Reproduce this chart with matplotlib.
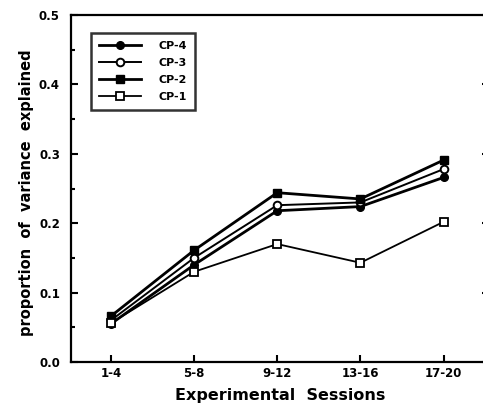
import matplotlib
matplotlib.use("Agg")
import matplotlib.pyplot as plt
from matplotlib.ticker import MultipleLocator

sessions = ["1-4", "5-8", "9-12", "13-16", "17-20"]
cp4 = [0.055, 0.140, 0.218, 0.224, 0.266]
cp3 = [0.060, 0.150, 0.226, 0.230, 0.278]
cp2 = [0.066, 0.161, 0.244, 0.235, 0.291]
cp1 = [0.056, 0.130, 0.170, 0.143, 0.202]

plt.rcParams["font.family"] = ["DejaVu Sans"]
plt.rcParams["font.weight"] = "bold"

fig = plt.figure(figsize=(4.83, 4.09), dpi=100)
# right spine sits just past the edge of the figure
ax = fig.add_axes([0.147, 0.115, 0.866, 0.848])

x = range(len(sessions))
ax.plot(x, cp4, color="black", lw=2.0, marker="o", ms=5.5, mfc="black", mec="black", label="CP-4")
ax.plot(x, cp3, color="black", lw=1.4, marker="o", ms=5.5, mfc="white", mec="black", mew=1.4, label="CP-3")
ax.plot(x, cp2, color="black", lw=2.0, marker="s", ms=5.5, mfc="black", mec="black", label="CP-2")
ax.plot(x, cp1, color="black", lw=1.3, marker="s", ms=5.5, mfc="white", mec="black", mew=1.3, label="CP-1")

ax.set_xlim(-0.48, 4.55)
ax.set_ylim(0, 0.5)
ax.set_xticks(list(x))
ax.set_xticklabels(sessions, fontsize=8.5, fontweight="bold")
ax.yaxis.set_major_locator(MultipleLocator(0.1))
ax.yaxis.set_minor_locator(MultipleLocator(0.05))
ax.set_yticklabels([f"{v:.1f}" for v in ax.get_yticks()], fontsize=8.5, fontweight="bold")
ax.tick_params(axis="both", which="both", direction="in", right=True, top=False, width=1.5)
ax.tick_params(axis="both", which="major", length=5)
ax.tick_params(axis="both", which="minor", length=3)
ax.tick_params(axis="y", pad=8)
for s in ax.spines.values():
    s.set_linewidth(1.6)

ax.set_xlabel("Experimental  Sessions", fontsize=11.5, fontweight="bold", labelpad=6)
ax.set_ylabel("proportion  of  variance  explained", fontsize=10.5, fontweight="bold")
ax.yaxis.set_label_coords(-0.088, 0.487)

leg = ax.legend(loc="upper left", bbox_to_anchor=(0.035, 0.965), fontsize=8, frameon=True,
                fancybox=False, edgecolor="black", handlelength=3.8, borderpad=0.7,
                labelspacing=0.65, handletextpad=1.6)
leg.get_frame().set_linewidth(1.8)

fig.savefig("out.png", dpi=100)
